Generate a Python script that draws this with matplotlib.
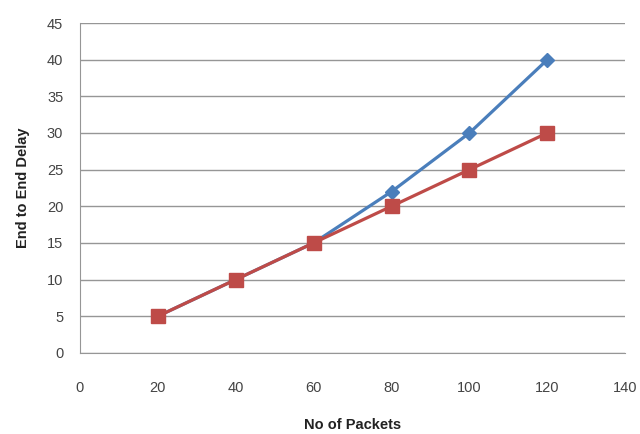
import matplotlib.pyplot as plt

packets = [20, 40, 60, 80, 100, 120]
delay_a = [5, 10, 15, 22, 30, 40]
delay_b = [5, 10, 15, 20, 25, 30]

plt.rcParams["font.family"] = ["Liberation Sans", "DejaVu Sans"]

fig = plt.figure(figsize=(6.4, 4.34), dpi=100)
ax = fig.add_axes([0.125, 0.187, 0.852, 0.76])

ax.plot(packets, delay_a, color="#4a7ebb", lw=2.3, marker="D", ms=7,
        markerfacecolor="#4a7ebb", markeredgecolor="#4a7ebb", zorder=3)
ax.plot(packets, delay_b, color="#be4b48", lw=2.3, marker="s", ms=10,
        markerfacecolor="#be4b48", markeredgecolor="#be4b48", zorder=4)

ax.set_xlim(0, 140)
ax.set_ylim(0, 45)
ax.set_xticks(range(0, 141, 20))
ax.set_yticks(range(0, 46, 5))
ax.grid(axis="y", color="#969696", lw=1)
ax.set_axisbelow(True)
for s in ["top", "right"]:
    ax.spines[s].set_visible(False)
for s in ["left", "bottom"]:
    ax.spines[s].set_color("#969696")
ax.tick_params(length=0, labelsize=10.5, colors="#444444")
ax.tick_params(axis="x", pad=20)
ax.tick_params(axis="y", pad=12)

ax.set_xlabel("No of Packets", fontsize=10.5, fontweight="bold", color="#222222", labelpad=17)
ax.set_ylabel("End to End Delay", fontsize=10.5, fontweight="bold", color="#222222", labelpad=12)

fig.savefig("out.png", dpi=100)
